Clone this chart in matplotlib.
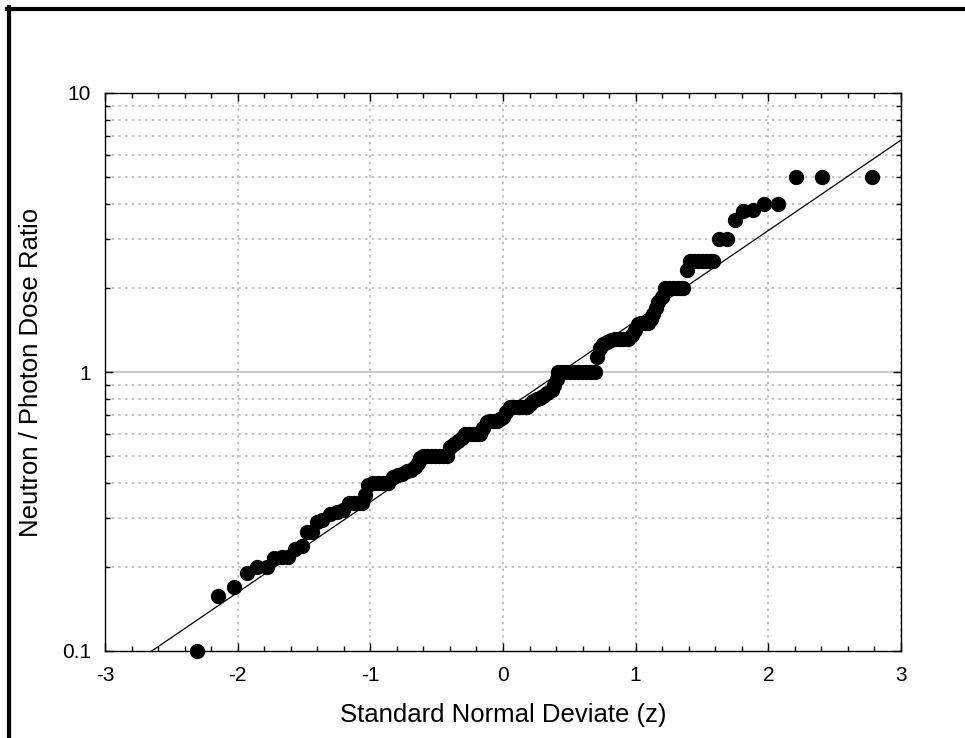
import numpy as np
import matplotlib
matplotlib.use('Agg')
import matplotlib.pyplot as plt
from matplotlib.ticker import FixedLocator, FixedFormatter, MultipleLocator
from matplotlib.lines import Line2D

plt.rcParams['font.family'] = ['Liberation Sans', 'DejaVu Sans']

# normal scores (z) and the sorted dose ratios
z = [-2.304, -2.146, -2.028, -1.932, -1.857, -1.781, -1.726, -1.668, -1.618, -1.568,
     -1.517, -1.474, -1.440, -1.404, -1.364, -1.304, -1.254, -1.204, -1.161, -1.123,
     -1.085, -1.063, -1.040, -1.015, -0.978, -0.942, -0.905, -0.867, -0.827, -0.792,
     -0.761, -0.726, -0.694, -0.663, -0.638, -0.622, -0.603, -0.573, -0.543, -0.513,
     -0.482, -0.452, -0.424, -0.400, -0.369, -0.337, -0.309, -0.287, -0.256, -0.226,
     -0.196, -0.173, -0.147, -0.123, -0.098, -0.068, -0.045, -0.023, 0.002, 0.026,
     0.053, 0.083, 0.113, 0.143, 0.179, 0.203, 0.228, 0.256, 0.279, 0.304,
     0.332, 0.367, 0.388, 0.405, 0.417, 0.445, 0.475, 0.505, 0.535, 0.565,
     0.595, 0.626, 0.656, 0.693, 0.706, 0.731, 0.754, 0.782, 0.814, 0.844,
     0.874, 0.904, 0.944, 0.972, 0.995, 1.018, 1.040, 1.067, 1.095, 1.115,
     1.133, 1.153, 1.171, 1.196, 1.221, 1.251, 1.281, 1.311, 1.334, 1.359,
     1.385, 1.410, 1.440, 1.470, 1.500, 1.530, 1.560, 1.583, 1.628, 1.686,
     1.746, 1.809, 1.882, 1.967, 2.073, 2.206, 2.402, 2.781]
ratio = [0.100, 0.157, 0.169, 0.191, 0.200, 0.200, 0.215, 0.217, 0.218, 0.233,
         0.237, 0.266, 0.268, 0.290, 0.296, 0.311, 0.316, 0.321, 0.338, 0.338,
         0.338, 0.338, 0.362, 0.393, 0.400, 0.400, 0.400, 0.400, 0.420, 0.427,
         0.430, 0.440, 0.445, 0.455, 0.470, 0.490, 0.500, 0.500, 0.500, 0.500,
         0.500, 0.500, 0.500, 0.540, 0.550, 0.565, 0.580, 0.600, 0.600, 0.600,
         0.600, 0.600, 0.630, 0.660, 0.670, 0.670, 0.670, 0.680, 0.690, 0.720,
         0.750, 0.750, 0.750, 0.750, 0.750, 0.770, 0.790, 0.800, 0.810, 0.820,
         0.840, 0.860, 0.900, 0.940, 1.000, 1.000, 1.000, 1.000, 1.000, 1.000,
         1.000, 1.000, 1.000, 1.000, 1.130, 1.220, 1.260, 1.280, 1.300, 1.310,
         1.310, 1.310, 1.310, 1.360, 1.415, 1.480, 1.500, 1.500, 1.500, 1.550,
         1.620, 1.700, 1.780, 1.860, 2.000, 2.000, 2.000, 2.000, 2.000, 2.000,
         2.330, 2.500, 2.500, 2.500, 2.500, 2.500, 2.500, 2.500, 3.000, 3.000,
         3.500, 3.780, 3.800, 4.000, 4.000, 5.000, 5.000, 5.000]

# fitted lognormal line: geometric mean and geometric sd
fit_gm = 0.722
fit_gsd = 2.11

fig = plt.figure(figsize=(9.65, 7.38), dpi=100)
ax = fig.add_axes([105/965, 1 - 651/738, 796/965, 558/738])

zz = np.array([-3.0, 3.0])
ax.plot(zz, fit_gm * fit_gsd ** zz, color='black', lw=0.9, zorder=3)
ax.plot(z, ratio, 'o', color='black', ms=10, mec='black', zorder=4, clip_on=False)

ax.set_yscale('log')
ax.set_xlim(-3, 3)
ax.set_ylim(0.1, 10)

ax.xaxis.set_major_locator(MultipleLocator(1))
ax.xaxis.set_minor_locator(MultipleLocator(0.2))
ax.yaxis.set_major_locator(FixedLocator([0.1, 1, 10]))
ax.yaxis.set_major_formatter(FixedFormatter(['0.1', '1', '10']))
ax.set_xticks(range(-3, 4))
ax.set_xticklabels(['-3', '-2', '-1', '0', '1', '2', '3'])

ax.tick_params(which='both', direction='in', top=True, right=True, width=1, color='black')
ax.tick_params(which='major', length=6, labelsize=15, pad=10)
ax.tick_params(axis='x', which='major', pad=11)
ax.tick_params(which='minor', length=3.5)
for s in ax.spines.values():
    s.set_linewidth(1.0)

ax.grid(True, axis='x', which='major', ls=(0, (1.5, 2.5)), color='#b8b8b8', lw=1.2)
ax.grid(True, axis='y', which='minor', ls=(0, (1.5, 2.5)), color='#b8b8b8', lw=1.2)
ax.axhline(1, color='#c0c0c0', lw=1.2, zorder=1)

ax.set_xlabel('Standard Normal Deviate (z)', fontsize=18.5, labelpad=13)
ax.set_ylabel('Neutron / Photon Dose Ratio', fontsize=18.5, labelpad=14)

# heavy frame around the figure (right and bottom edges fall outside)
fig.add_artist(Line2D([7/965, 1.0], [1 - 9/738, 1 - 9/738], color='black', lw=3,
                      transform=fig.transFigure))
fig.add_artist(Line2D([8.5/965, 8.5/965], [0.0, 1 - 7/738], color='black', lw=3,
                      transform=fig.transFigure))

fig.savefig('out.png', dpi=100)
